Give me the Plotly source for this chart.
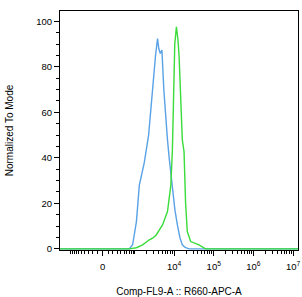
import numpy as np
import plotly.graph_objects as go

# Biexponential-like (arcsinh) display transform for the x axis
C = 316.0
LN10 = np.log(10)

def biex(v):
    return np.arcsinh(np.asarray(v, dtype=float) / C)

# ---- Data (fluorescence value, % of mode) ----
blue_x = [-2500, 600, 707, 873, 1100, 1311, 1762, 2266, 2859, 3400, 3819,
          4100, 4472, 4928, 5500, 6209, 6800, 7512, 9080, 10500, 12100,
          14000, 16130, 19000, 23740, 1.4e7]
blue_y = [0, 0, 0, 1.8, 12, 28, 38, 50, 71, 85, 92.4,
          88, 85.8, 87.3, 70, 55, 48, 40, 26.6, 17, 10.5,
          5, 1.75, 0.6, 0, 0]

green_x = [-2500, 707, 1100, 1595, 2361, 2859, 3500, 5100, 6810, 8277,
           9080, 9600, 10400, 11430, 12500, 13340, 14800, 16130,
           17800, 19500, 21520, 26180, 42200, 62150, 1.4e7]
green_y = [0, 0, 0.5, 1.75, 4, 4.7, 6, 10.5, 16.4, 28,
           44, 70, 90, 97.5, 92, 85, 65, 47.8,
           42.7, 20, 7.6, 3.2, 1.75, 0, 0]

major_vals = [0, 1e4, 1e5, 1e6, 1e7]
major_text = ["0", "10<sup>4</sup>", "10<sup>5</sup>", "10<sup>6</sup>", "10<sup>7</sup>"]
minor_vals = ([-k * 100 for k in range(1, 10)] + [-1000] +
              [k * 100 for k in range(1, 10)] +
              [k * 10 ** e for e in (3, 4, 5, 6) for k in range(1, 10)])

y_major = [0, 20, 40, 60, 80, 100]

fig = go.Figure()
fig.add_trace(go.Scatter(x=biex(blue_x), y=blue_y, mode="lines",
                         line=dict(color="#5aa2e6", width=1.4), showlegend=False))
fig.add_trace(go.Scatter(x=biex(green_x), y=green_y, mode="lines",
                         line=dict(color="#39dc39", width=1.4), showlegend=False))

font = "Liberation Sans, Arial, sans-serif"
fig.update_layout(
    width=302, height=297,
    margin=dict(l=60, r=2, t=11, b=46),
    paper_bgcolor="white", plot_bgcolor="white",
    font=dict(family=font, size=9, color="black"),
)
x_lo = -1.075 * LN10
x_hi = (300 - 103) / 40 * LN10
fig.update_xaxes(
    range=[x_lo, x_hi],
    tickmode="array", tickvals=biex(major_vals), ticktext=major_text,
    ticks="outside", ticklen=5, tickwidth=1, tickcolor="black",
    minor=dict(tickmode="array", tickvals=biex(minor_vals), ticks="outside",
               ticklen=3, tickwidth=1, tickcolor="black", showgrid=False),
    showline=True, linecolor="black", linewidth=1, mirror=True,
    showgrid=False, zeroline=False,
    ticklabeloverflow="allow", ticklabelstandoff=3,
    tickfont=dict(size=9.5),
    title=dict(text="Comp-FL9-A :: R660-APC-A", font=dict(size=10), standoff=16),
)
fig.update_yaxes(
    range=[-0.5, 104.5],
    tickmode="array", tickvals=y_major,
    ticks="outside", ticklen=5, tickwidth=1, tickcolor="black",
    minor=dict(dtick=5, tick0=0, ticks="outside", ticklen=3, tickwidth=1,
               tickcolor="black", showgrid=False),
    showline=True, linecolor="black", linewidth=1, mirror=True,
    showgrid=False, zeroline=False,
    tickfont=dict(size=9.5),
    title=dict(text="Normalized To Mode", font=dict(size=10), standoff=20),
)
fig.write_html("out.html")
